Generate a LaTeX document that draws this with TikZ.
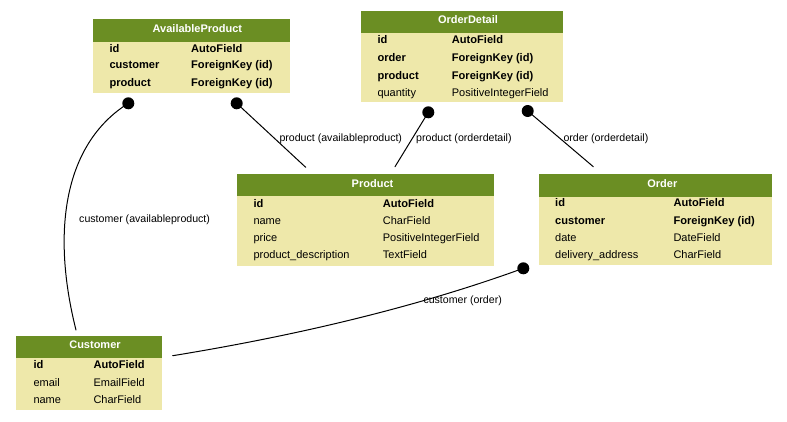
\documentclass[tikz,border=0pt]{standalone}
\usepackage{fontspec}
\setmainfont{Liberation Sans}
\usepackage{tikz}
\definecolor{olivedrab}{rgb}{0.42,0.557,0.137}
\definecolor{palegold}{rgb}{0.933,0.91,0.667}
\tikzset{
  tablebody/.style={anchor=north west,fill=palegold,inner sep=0pt,outer sep=0pt},
  tablehead/.style={anchor=north west,fill=olivedrab,inner sep=0pt,outer sep=0pt},
  headtext/.style={text=white,inner sep=0pt,font=\fontsize{11}{13}\selectfont\bfseries,text height=9pt,text depth=1.2pt},
  keyfield/.style={anchor=west,inner sep=0pt,font=\fontsize{11.1}{13}\selectfont\bfseries,text height=9pt,text depth=1.2pt},
  plainfield/.style={anchor=west,inner sep=0pt,font=\fontsize{11}{13}\selectfont,text height=9pt,text depth=1.2pt},
  fkdot/.style={circle,fill=black,inner sep=0pt,minimum size=12pt},
  rellabel/.style={anchor=west,inner sep=0pt,font=\fontsize{10.6}{12}\selectfont,text height=9pt,text depth=1.2pt},
  relline/.style={draw=black,line width=1pt}
}
\begin{document}
\begin{tikzpicture}[line cap=round,line join=round,x=1pt,y=-1pt]
\useasboundingbox[fill=white] (0,0) rectangle (787,421);
\node[tablebody,minimum width=197.3pt,minimum height=74pt] (availableproduct) at (92.7,19.3) {};
\node[tablehead,minimum width=197.3pt,minimum height=22.4pt] (availableproduct-head) at (92.7,19.3) {};
\node[headtext] (availableproduct-title) at (197.4,28.5) {AvailableProduct};
\node[keyfield] (availableproduct-id) at (109.3,48.3) {id};
\node[keyfield] (availableproduct-idtype) at (191,48.3) {AutoField};
\node[keyfield] (availableproduct-customer) at (109.3,65) {customer};
\node[keyfield] (availableproduct-customertype) at (191,65) {ForeignKey (id)};
\node[keyfield] (availableproduct-product) at (109.3,82.7) {product};
\node[keyfield] (availableproduct-producttype) at (191,82.7) {ForeignKey (id)};
\node[tablebody,minimum width=202.6pt,minimum height=91.6pt] (orderdetail) at (360.7,10.7) {};
\node[tablehead,minimum width=202.6pt,minimum height=22.6pt] (orderdetail-head) at (360.7,10.7) {};
\node[headtext] (orderdetail-title) at (468,20) {OrderDetail};
\node[keyfield] (orderdetail-id) at (377.3,40) {id};
\node[keyfield] (orderdetail-idtype) at (451.7,40) {AutoField};
\node[keyfield] (orderdetail-order) at (377.3,57.3) {order};
\node[keyfield] (orderdetail-ordertype) at (451.7,57.3) {ForeignKey (id)};
\node[keyfield] (orderdetail-product) at (377.3,75.3) {product};
\node[keyfield] (orderdetail-producttype) at (451.7,75.3) {ForeignKey (id)};
\node[plainfield] (orderdetail-quantity) at (377.3,92.7) {quantity};
\node[plainfield] (orderdetail-quantitytype) at (451.7,92.7) {PositiveIntegerField};
\node[tablebody,minimum width=257.6pt,minimum height=91.7pt] (product) at (236.7,174) {};
\node[tablehead,minimum width=257.6pt,minimum height=22pt] (product-head) at (236.7,174) {};
\node[headtext] (product-title) at (372.5,183.3) {Product};
\node[keyfield] (product-id) at (253.3,203.3) {id};
\node[keyfield] (product-idtype) at (382.7,203.3) {AutoField};
\node[plainfield] (product-name) at (253.3,220.7) {name};
\node[plainfield] (product-nametype) at (382.7,220.7) {CharField};
\node[plainfield] (product-price) at (253.3,237.7) {price};
\node[plainfield] (product-pricetype) at (382.7,237.7) {PositiveIntegerField};
\node[plainfield] (product-description) at (253.3,255) {product\_description};
\node[plainfield] (product-descriptiontype) at (382.7,255) {TextField};
\node[tablebody,minimum width=232.7pt,minimum height=91pt] (order) at (539,174) {};
\node[tablehead,minimum width=232.7pt,minimum height=22.7pt] (order-head) at (539,174) {};
\node[headtext] (order-title) at (662.3,183.3) {Order};
\node[keyfield] (order-id) at (555,203) {id};
\node[keyfield] (order-idtype) at (673.3,203) {AutoField};
\node[keyfield] (order-customer) at (555,220.3) {customer};
\node[keyfield] (order-customertype) at (673.3,220.3) {ForeignKey (id)};
\node[plainfield] (order-date) at (555,237.3) {date};
\node[plainfield] (order-datetype) at (673.3,237.3) {DateField};
\node[plainfield] (order-address) at (555,255) {delivery\_address};
\node[plainfield] (order-addresstype) at (673.3,255) {CharField};
\node[tablebody,minimum width=145.7pt,minimum height=74pt] (customer) at (16,336) {};
\node[tablehead,minimum width=145.7pt,minimum height=21.7pt] (customer-head) at (16,336) {};
\node[headtext] (customer-title) at (95,345) {Customer};
\node[keyfield] (customer-id) at (33.3,365) {id};
\node[keyfield] (customer-idtype) at (93.3,365) {AutoField};
\node[plainfield] (customer-email) at (33.3,382.3) {email};
\node[plainfield] (customer-emailtype) at (93.3,382.3) {EmailField};
\node[plainfield] (customer-name) at (33.3,399.3) {name};
\node[plainfield] (customer-nametype) at (93.3,399.3) {CharField};
\node[fkdot] (availableproduct-customerdot) at (128.3,103.3) {};
\node[fkdot] (availableproduct-productdot) at (236.7,103.3) {};
\node[fkdot] (orderdetail-productdot) at (428.3,112.3) {};
\node[fkdot] (orderdetail-orderdot) at (527.7,111) {};
\node[fkdot] (order-customerdot) at (523.3,268.3) {};
\coordinate (customer-top) at (76,330);
\coordinate (customer-right) at (172.7,355.7);
\coordinate (product-topleft) at (305.7,167.3);
\coordinate (product-topright) at (395,166.7);
\coordinate (order-top) at (593.3,166.7);
\draw[relline] (availableproduct-customerdot.center) .. controls (62,145) and (52,235) .. (customer-top);
\draw[relline] (availableproduct-productdot.center) -- (product-topleft);
\draw[relline] (orderdetail-productdot.center) -- (product-topright);
\draw[relline] (orderdetail-orderdot.center) -- (order-top);
\draw[relline] (order-customerdot.center) .. controls (420,306) and (300,335) .. (customer-right);
\node[rellabel] (availableproduct-customerlabel) at (79,218.3) {customer (availableproduct)};
\node[rellabel] (availableproduct-productlabel) at (279.3,137.7) {product (availableproduct)};
\node[rellabel] (orderdetail-productlabel) at (416,137.3) {product (orderdetail)};
\node[rellabel] (orderdetail-orderlabel) at (563.3,137.3) {order (orderdetail)};
\node[rellabel] (order-customerlabel) at (423.3,299.3) {customer (order)};
\end{tikzpicture}
\end{document}
